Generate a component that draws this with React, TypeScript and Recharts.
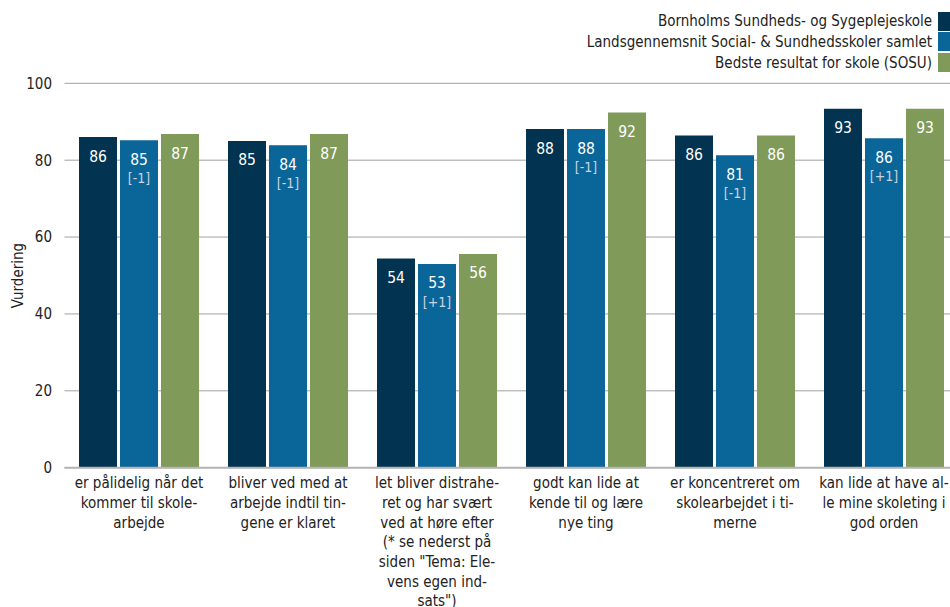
import { BarChart, Bar, XAxis, YAxis, CartesianGrid, LabelList } from 'recharts';

// spørgsmål (linjeskift som i originalen)
const categories: string[][] = [
  ['er pålidelig når det', 'kommer til skole-', 'arbejde'],
  ['bliver ved med at', 'arbejde indtil tin-', 'gene er klaret'],
  ['let bliver distrahe-', 'ret og har svært', 'ved at høre efter', '(* se nederst på', 'siden "Tema: Ele-', 'vens egen ind-', 'sats")'],
  ['godt kan lide at', 'kende til og lære', 'nye ting'],
  ['er koncentreret om', 'skolearbejdet i ti-', 'merne'],
  ['kan lide at have al-', 'le mine skoleting i', 'god orden'],
];

const bornholm = [86.0, 85.0, 54.4, 88.1, 86.4, 93.4];
const lands = [85.2, 83.9, 53.0, 88.1, 81.3, 85.7];
const bedste = [86.8, 86.8, 55.6, 92.4, 86.4, 93.4];

const bornholmLabels = [86, 85, 54, 88, 86, 93];
const landsLabels = [85, 84, 53, 88, 81, 86];
const bedsteLabels = [87, 87, 56, 92, 86, 93];
const landsDiff = ['[-1]', '[-1]', '[+1]', '[-1]', '[-1]', '[+1]'];

const yTicks = [0, 20, 40, 60, 80, 100];

const SERIES = [
  { key: 'bornholm', name: 'Bornholms Sundheds- og Sygeplejeskole', color: '#023452', labels: bornholmLabels },
  { key: 'lands', name: 'Landsgennemsnit Social- & Sundhedsskoler samlet', color: '#0a6599', labels: landsLabels, diff: landsDiff },
  { key: 'bedste', name: 'Bedste resultat for skole (SOSU)', color: '#7f9a59', labels: bedsteLabels },
];

const FONT = "'DejaVu Sans Condensed', 'DejaVu Sans', sans-serif";

const data = categories.map((lines, i) => ({
  cat: lines.join('\n'),
  bornholm: bornholm[i],
  lands: lands[i],
  bedste: bedste[i],
}));

function CatTick(props: any) {
  const { x, y, payload } = props;
  const lines = String(payload.value).split('\n');
  return (
    <g>
      {lines.map((l, i) => (
        <text key={i} x={x} y={y + 15.5 + i * 19.7} textAnchor="middle" dominantBaseline="central"
          fontSize={15} fill="#222" fontFamily={FONT}>{l}</text>
      ))}
    </g>
  );
}

const barLabel = (labels: number[], diff?: string[]) => (p: any) => {
  const cx = Number(p.x) + Number(p.width) / 2;
  const top = Number(p.y);
  return (
    <g>
      <text x={cx} y={top + 19.5} textAnchor="middle" dominantBaseline="central" fill="#fff"
        fontSize={15.5} fontFamily={FONT}>{labels[p.index]}</text>
      {diff && (
        <text x={cx} y={top + 38} textAnchor="middle" dominantBaseline="central" fill="#c9d4e0"
          fontSize={14} fontFamily={FONT}>{diff[p.index]}</text>
      )}
    </g>
  );
};

export default function App() {
  return (
    <div style={{ position: 'fixed', left: 0, top: 0, width: 950, height: 607, overflow: 'hidden', background: '#fff', fontFamily: FONT }}>
      <div style={{ position: 'absolute', top: 11.7, right: 0, zIndex: 2 }}>
        {SERIES.map((s) => (
          <div key={s.key} style={{ display: 'flex', justifyContent: 'flex-end', alignItems: 'center', height: 19, marginBottom: 1.7 }}>
            <span style={{ fontSize: 15, color: '#222', marginRight: 6, whiteSpace: 'nowrap' }}>{s.name}</span>
            <span style={{ display: 'inline-block', width: 12, height: 19, background: s.color }} />
          </div>
        ))}
      </div>
      <BarChart width={960} height={607} data={data} barCategoryGap={14.5} barGap={3}
        margin={{ top: 83.3, right: 1.5, bottom: 0, left: 0 }}>
        <CartesianGrid vertical={false} stroke="#a0a0a0" />
        <XAxis dataKey="cat" height={139.3} tickLine={false} tickSize={0} tickMargin={0} interval={0}
          axisLine={{ stroke: '#b4b4b4', strokeWidth: 2 }} tick={<CatTick />} />
        <YAxis width={64.5} domain={[0, 100]} ticks={yTicks} axisLine={false} tickLine={false}
          tickSize={0} tickMargin={12.5}
          tick={{ fontSize: 15, fill: '#222', fontFamily: FONT }}
          label={(p: any) => {
            const vb = p.viewBox;
            const cy = vb.y + vb.height / 2;
            return (
              <text x={18} y={cy} transform={`rotate(-90 18 ${cy})`} textAnchor="middle"
                dominantBaseline="central" fontSize={15} fill="#222" fontFamily={FONT}>Vurdering</text>
            );
          }} />
        {SERIES.map((s) => (
          <Bar key={s.key} dataKey={s.key} name={s.name} fill={s.color} isAnimationActive={false}>
            <LabelList dataKey={s.key} content={barLabel(s.labels, s.diff)} />
          </Bar>
        ))}
      </BarChart>
    </div>
  );
}
